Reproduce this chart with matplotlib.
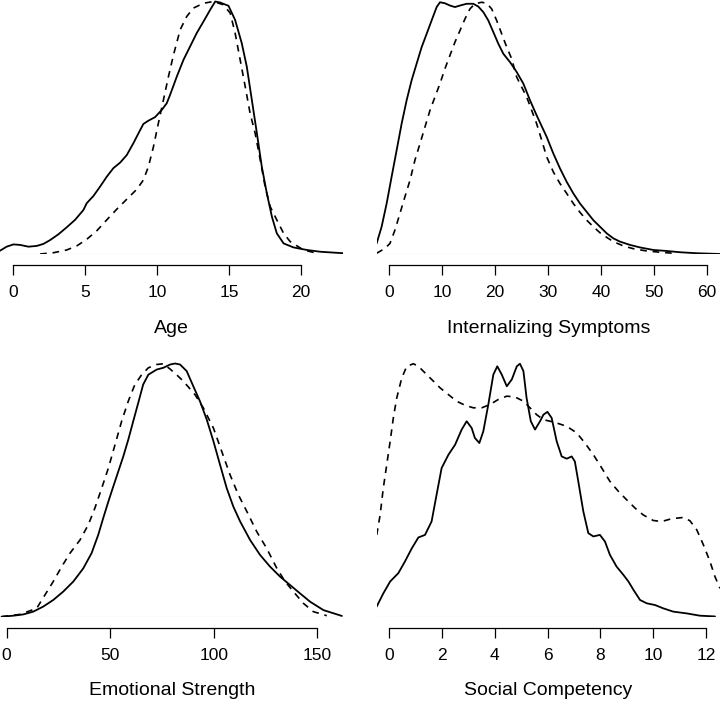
import numpy as np
import matplotlib.pyplot as plt

plt.rcParams['font.family'] = ['Liberation Sans', 'DejaVu Sans']

# relative density heights (peak = 1)
age_x_solid = [-0.88, -0.42, 0.05, 0.51, 1.09, 1.67, 2.13, 2.59, 3.17, 3.75, 4.32, 4.90, 5.13,
               5.60, 6.06, 6.52, 6.98, 7.45, 7.91, 8.37, 8.72, 9.06, 9.41, 9.87, 10.34, 10.68,
               10.91, 11.38, 11.84, 12.30, 12.76, 13.23, 13.69, 14.04, 14.38, 14.96, 15.42,
               15.88, 16.23, 16.58, 16.93, 17.27, 17.62, 17.97, 18.31, 18.78, 19.47, 20.39,
               21.32, 22.94]
age_y_solid = [0.013, 0.029, 0.038, 0.036, 0.029, 0.032, 0.040, 0.055, 0.078, 0.106, 0.135,
               0.174, 0.201, 0.230, 0.267, 0.306, 0.340, 0.362, 0.392, 0.439, 0.478, 0.515,
               0.528, 0.542, 0.571, 0.597, 0.630, 0.703, 0.769, 0.822, 0.875, 0.921, 0.967,
               1.0, 0.996, 0.983, 0.927, 0.835, 0.742, 0.610, 0.478, 0.346, 0.240, 0.148,
               0.082, 0.042, 0.026, 0.016, 0.009, 0.003]
age_x_dash = [1.90, 2.82, 3.75, 4.44, 5.13, 5.83, 6.52, 7.21, 7.91, 8.60, 9.06, 9.41, 9.76,
              10.10, 10.45, 10.80, 11.15, 11.61, 12.07, 12.53, 13.23, 13.92, 14.61, 15.08,
              15.42, 15.77, 16.12, 16.46, 16.81, 17.16, 17.50, 17.85, 18.31, 18.78, 19.24,
              20.16, 21.09]
age_y_dash = [0, 0.005, 0.016, 0.032, 0.058, 0.092, 0.135, 0.177, 0.217, 0.256, 0.293, 0.346,
              0.425, 0.518, 0.610, 0.703, 0.789, 0.888, 0.941, 0.974, 0.993, 1.0, 0.987, 0.954,
              0.875, 0.769, 0.663, 0.557, 0.478, 0.373, 0.267, 0.188, 0.135, 0.082, 0.049,
              0.016, 0.003]

int_x_solid = [-2.39, -1.45, -0.50, 0.44, 1.39, 2.33, 3.28, 4.22, 5.17, 6.11, 7.06, 8.00, 8.95,
               9.58, 10.52, 11.47, 12.41, 13.36, 14.62, 15.88, 16.82, 17.77, 18.71, 19.66,
               20.60, 21.55, 22.81, 24.07, 25.33, 26.59, 27.85, 29.74, 31.00, 32.26, 33.52,
               34.78, 36.04, 37.30, 38.56, 39.82, 41.08, 42.34, 43.60, 45.49, 47.38, 49.91,
               52.43, 54.95, 58.10, 62.51]
int_y_solid = [0.042, 0.108, 0.200, 0.306, 0.411, 0.516, 0.609, 0.688, 0.754, 0.819, 0.872,
               0.925, 0.978, 0.997, 0.993, 0.984, 0.978, 0.984, 0.991, 0.991, 0.980, 0.958,
               0.925, 0.879, 0.833, 0.793, 0.760, 0.721, 0.675, 0.609, 0.549, 0.464, 0.398,
               0.339, 0.286, 0.240, 0.200, 0.167, 0.134, 0.108, 0.082, 0.062, 0.049, 0.036,
               0.026, 0.016, 0.012, 0.007, 0.003, 0]
int_x_dash = [-2.39, -0.82, 0.13, 1.07, 2.02, 2.96, 3.91, 4.85, 5.80, 6.74, 7.69, 8.63, 9.58,
              10.52, 11.47, 12.41, 13.36, 14.30, 15.25, 16.19, 17.45, 18.40, 19.34, 20.29,
              21.24, 22.18, 23.13, 24.07, 25.02, 25.96, 26.91, 27.85, 28.80, 29.74, 31.00,
              32.26, 33.52, 34.78, 36.04, 37.30, 38.56, 39.82, 41.08, 42.34, 44.23, 46.12,
              48.64, 51.17, 53.69]
int_y_dash = [0.003, 0.022, 0.042, 0.095, 0.161, 0.227, 0.292, 0.372, 0.437, 0.503, 0.569,
              0.622, 0.675, 0.734, 0.787, 0.839, 0.885, 0.931, 0.971, 0.991, 0.997, 0.993,
              0.971, 0.925, 0.872, 0.820, 0.773, 0.701, 0.661, 0.622, 0.569, 0.516, 0.451,
              0.385, 0.325, 0.279, 0.240, 0.200, 0.165, 0.134, 0.108, 0.084, 0.066, 0.049,
              0.032, 0.021, 0.012, 0.007, 0.003]

emo_x_solid = [-2.43, 3.19, 8.02, 12.85, 17.67, 22.5, 27.3, 32.2, 37.0, 41.0, 44.2, 46.6, 49.1,
               51.5, 53.9, 56.3, 58.7, 61.1, 63.5, 65.9, 68.4, 72.4, 75.6, 78.9, 81.3, 83.7,
               86.9, 90.1, 93.3, 96.6, 99.8, 103.0, 106.2, 109.4, 112.7, 117.5, 122.3, 127.1,
               132.0, 136.8, 141.6, 146.5, 152.9, 161.8]
emo_y_solid = [0, 0.004, 0.009, 0.020, 0.040, 0.066, 0.099, 0.139, 0.191, 0.251, 0.323, 0.389,
               0.455, 0.515, 0.574, 0.633, 0.699, 0.772, 0.844, 0.917, 0.956, 0.976, 0.983,
               0.996, 1.0, 0.996, 0.970, 0.910, 0.851, 0.778, 0.693, 0.600, 0.508, 0.435,
               0.376, 0.303, 0.244, 0.198, 0.158, 0.125, 0.092, 0.059, 0.026, 0.003]
emo_x_dash = [-2.4, 6.4, 14.5, 18.5, 22.5, 26.6, 30.6, 35.4, 39.4, 42.6, 45.9, 49.1, 52.3, 55.5,
              58.7, 61.9, 65.2, 68.4, 72.4, 75.6, 78.9, 82.1, 85.3, 90.9, 94.9, 99.8, 103.8,
              107.8, 111.8, 115.9, 120.7, 125.5, 130.4, 134.4, 138.4, 143.2, 148.0, 154.5]
emo_y_dash = [0, 0.009, 0.033, 0.086, 0.139, 0.198, 0.251, 0.303, 0.363, 0.429, 0.508, 0.587,
              0.679, 0.772, 0.851, 0.917, 0.956, 0.983, 0.996, 0.999, 0.978, 0.955, 0.930,
              0.877, 0.825, 0.745, 0.653, 0.561, 0.482, 0.416, 0.336, 0.270, 0.191, 0.139,
              0.099, 0.053, 0.020, 0.004]

soc_x_solid = [-0.48, -0.23, 0.03, 0.34, 0.59, 0.85, 1.10, 1.35, 1.60, 1.79, 1.98, 2.24, 2.49,
               2.74, 2.93, 3.12, 3.24, 3.41, 3.56, 3.75, 3.94, 4.09, 4.26, 4.45, 4.64, 4.83,
               4.95, 5.08, 5.20, 5.36, 5.52, 5.71, 5.84, 5.99, 6.15, 6.34, 6.53, 6.72, 6.91,
               7.03, 7.16, 7.35, 7.54, 7.73, 7.98, 8.17, 8.36, 8.61, 8.87, 9.06, 9.25, 9.50,
               9.75, 10.07, 10.38, 10.76, 11.27, 11.77, 12.34]
soc_y_solid = [0.040, 0.092, 0.139, 0.172, 0.218, 0.270, 0.313, 0.323, 0.376, 0.482, 0.587,
               0.640, 0.679, 0.739, 0.772, 0.745, 0.706, 0.686, 0.732, 0.838, 0.956, 0.989,
               0.956, 0.910, 0.937, 0.989, 0.999, 0.970, 0.864, 0.772, 0.739, 0.772, 0.798,
               0.809, 0.785, 0.693, 0.633, 0.624, 0.633, 0.613, 0.534, 0.416, 0.330, 0.317,
               0.323, 0.297, 0.244, 0.198, 0.165, 0.139, 0.106, 0.066, 0.053, 0.046, 0.033,
               0.020, 0.013, 0.004, 0.001]
soc_x_dash = [-0.48, -0.35, -0.23, -0.10, 0.03, 0.15, 0.28, 0.47, 0.66, 0.91, 1.10, 1.35, 1.67,
              1.92, 2.24, 2.55, 2.87, 3.18, 3.50, 3.81, 4.13, 4.45, 4.76, 5.08, 5.33, 5.58,
              5.84, 6.09, 6.34, 6.72, 7.10, 7.41, 7.73, 8.05, 8.36, 8.68, 8.99, 9.31, 9.62,
              10.00, 10.32, 10.70, 11.14, 11.39, 11.65, 11.90, 12.15, 12.34, 12.53]
soc_y_dash = [0.323, 0.402, 0.508, 0.600, 0.693, 0.785, 0.864, 0.943, 0.989, 0.999, 0.989,
              0.963, 0.930, 0.904, 0.877, 0.851, 0.835, 0.825, 0.825, 0.838, 0.858, 0.871,
              0.868, 0.851, 0.825, 0.798, 0.778, 0.772, 0.765, 0.752, 0.726, 0.686, 0.640,
              0.587, 0.534, 0.495, 0.462, 0.429, 0.402, 0.380, 0.376, 0.387, 0.392, 0.379,
              0.343, 0.284, 0.218, 0.158, 0.112]

W, H = 720, 702
fig = plt.figure(figsize=(W / 100, H / 100), dpi=100)

panels = [
    # (left px, right px, top px, base px, xlim, ticks, label, solid, dashed)
    (0, 343, 0, 254, (-0.88, 22.9), [0, 5, 10, 15, 20], "Age",
     (age_x_solid, age_y_solid), (age_x_dash, age_y_dash)),
    (376.7, 720, 0, 254, (-2.38, 62.5), [0, 10, 20, 30, 40, 50, 60], "Internalizing Symptoms",
     (int_x_solid, int_y_solid), (int_x_dash, int_y_dash)),
    (0, 345, 362, 616.7, (-3.2, 163.3), [0, 50, 100, 150], "Emotional Strength",
     (emo_x_solid, emo_y_solid), (emo_x_dash, emo_y_dash)),
    (376.7, 720, 362, 616.7, (-0.48, 12.53), [0, 2, 4, 6, 8, 10, 12], "Social Competency",
     (soc_x_solid, soc_y_solid), (soc_x_dash, soc_y_dash)),
]

for left, right, top, base, xlim, ticks, label, solid, dashed in panels:
    ax = fig.add_axes([left / W, 1 - base / H, (right - left) / W, (base - top) / H])
    peak = 1.0 / ((base - top - 1.5) / (base - top))
    ax.plot(solid[0], solid[1], color="black", lw=1.3,
            solid_joinstyle="round", solid_capstyle="round")
    ax.plot(dashed[0], dashed[1], color="black", lw=1.2, dashes=(4, 3.5))
    ax.axhline(0, color="#bebebe", lw=0.8, zorder=0)
    ax.set_xlim(*xlim)
    ax.set_ylim(0, peak)
    for s in ("top", "left", "right"):
        ax.spines[s].set_visible(False)
    ax.spines["bottom"].set_position(("outward", 8))
    ax.spines["bottom"].set_bounds(ticks[0], ticks[-1])
    ax.spines["bottom"].set_linewidth(0.9)
    ax.set_yticks([])
    ax.set_xticks(ticks)
    ax.tick_params(axis="x", length=7.5, width=0.9, pad=7, labelsize=12.5)
    ax.set_xlabel(label, fontsize=14, labelpad=14)

fig.savefig("out.png", dpi=100)
